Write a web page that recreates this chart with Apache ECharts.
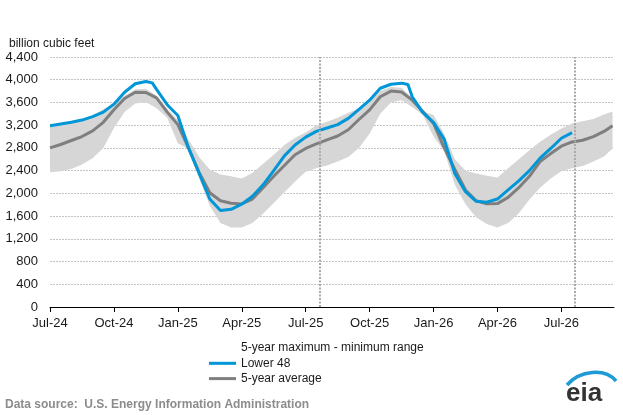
<!DOCTYPE html>
<html>
<head>
<meta charset="utf-8">
<script src="https://cdn.jsdelivr.net/npm/echarts@6/dist/echarts.min.js"></script>
<style>
html,body{margin:0;padding:0;background:#fff;}
#chart{width:623px;height:415px;}
</style>
</head>
<body>
<div id="chart"></div>
<script>
// x positions are months since Jul-2024 (0 = Jul-24)
const xTickMonths = [0, 3, 6, 9, 12, 15, 18, 21, 24];
const xTickLabels = ['Jul-24', 'Oct-24', 'Jan-25', 'Apr-25', 'Jul-25', 'Oct-25', 'Jan-26', 'Apr-26', 'Jul-26'];
const yTicks = [0, 400, 800, 1200, 1600, 2000, 2400, 2800, 3200, 3600, 4000, 4400];

// current-week markers (same week, two years)
const markerMonths = [12.67, 24.64];

// Lower 48 working gas in storage (bcf)
const lowerMonths = [0, 0.5, 1, 1.5, 2, 2.5, 3, 3.5, 4, 4.5, 4.8, 5, 5.5, 6, 6.5, 7, 7.5, 8, 8.5, 9, 9.5, 10, 10.5, 11, 11.5, 12,
  12.5, 13, 13.5, 14, 14.5, 15, 15.5, 16, 16.5, 16.8, 17, 17.5, 18, 18.5, 19, 19.5, 20, 20.5, 21, 21.5, 22, 22.5, 23, 23.5, 24, 24.5];
const lower48 = [3190, 3220, 3250, 3290, 3350, 3430, 3570, 3780, 3930, 3970, 3945, 3830, 3560, 3370, 2800, 2350, 1900, 1700, 1720, 1810, 1950, 2150, 2400, 2660, 2850, 2990,
  3090, 3150, 3210, 3320, 3480, 3640, 3850, 3920, 3940, 3915, 3700, 3420, 3250, 2950, 2350, 2030, 1860, 1845, 1900, 2060, 2220, 2400, 2620, 2790, 2970, 3070];

// 5-year statistics
const statMonths = [0, 0.5, 1, 1.5, 2, 2.5, 3, 3.5, 4, 4.5, 5, 5.5, 6, 6.5, 7, 7.5, 8, 8.5, 9, 9.5, 10, 10.5, 11, 11.5, 12,
  12.5, 13, 13.5, 14, 14.5, 15, 15.5, 16, 16.5, 17, 17.5, 18, 18.5, 19, 19.5, 20, 20.5, 21, 21.5, 22, 22.5, 23, 23.5, 24, 24.5, 25, 25.5, 26, 26.4];
const fiveYearAvg = [2800, 2860, 2930, 3000, 3100, 3250, 3470, 3670, 3780, 3775, 3680, 3430, 3210, 2800, 2370, 2010, 1870, 1825, 1815, 1900, 2100, 2300, 2490, 2680, 2790,
  2870, 2940, 3010, 3120, 3300, 3470, 3700, 3800, 3785, 3640, 3440, 3230, 2800, 2420, 2060, 1870, 1815, 1820, 1930, 2100, 2300, 2560, 2700, 2830, 2905, 2935, 3000, 3090, 3190];
const fiveYearMax = [3180, 3210, 3240, 3270, 3370, 3480, 3580, 3720, 3830, 3840, 3720, 3490, 3290, 2950, 2640, 2420, 2330, 2300, 2260, 2360, 2520, 2680, 2850, 2980, 3070,
  3200, 3260, 3330, 3420, 3500, 3640, 3800, 3870, 3860, 3680, 3440, 3380, 3050, 2600, 2400, 2350, 2310, 2280, 2440, 2600, 2760, 2910, 3030, 3140, 3230, 3270, 3310, 3390, 3440];
const fiveYearMin = [2370, 2390, 2430, 2510, 2620, 2800, 3150, 3430, 3580, 3610, 3500, 3330, 2880, 2780, 2260, 1780, 1480, 1400, 1400, 1480, 1640, 1830, 2020, 2210, 2380,
  2440, 2490, 2560, 2640, 2800, 3050, 3400, 3600, 3640, 3520, 3380, 3000, 2750, 2150, 1810, 1580, 1460, 1400, 1480, 1650, 1890, 2100, 2260, 2390, 2440, 2480, 2560, 2650, 2790];

const pair = (xs, ys) => xs.map((x, i) => [x, ys[i]]);
const bandData = statMonths.map((m, i) => [m, fiveYearMin[i], fiveYearMax[i]]);

const chart = echarts.init(document.getElementById('chart'), null, {renderer: 'canvas'});
const FONT = '"Liberation Sans", Arial, sans-serif';

chart.setOption({
  animation: false,
  backgroundColor: '#ffffff',
  textStyle: {fontFamily: FONT},
  title: {
    text: 'billion cubic feet',
    left: 4, top: 33,
    textStyle: {fontSize: 12, fontWeight: 'normal', color: '#1a1a1a', fontFamily: FONT}
  },
  grid: {left: 50, right: 9, top: 57, bottom: 108, containLabel: false},
  legend: {
    orient: 'vertical',
    left: 204, top: 337,
    itemWidth: 27, itemHeight: 3, itemGap: 3.3,
    icon: 'rect',
    textStyle: {fontSize: 12, color: '#1a1a1a', fontFamily: FONT},
    selectedMode: false,
    data: [
      {name: '5-year maximum - minimum range', itemStyle: {opacity: 0}},
      {name: 'Lower 48'},
      {name: '5-year average'}
    ]
  },
  xAxis: {
    type: 'value',
    min: 0, max: 26.47,
    splitLine: {show: false},
    axisLine: {show: true, lineStyle: {color: '#000', width: 1}},
    axisTick: {show: true, length: 5, lineStyle: {color: '#000'}, customValues: xTickMonths},
    axisLabel: {
      customValues: xTickMonths,
      fontSize: 13, color: '#1a1a1a', margin: 10, fontFamily: FONT,
      formatter: v => { const i = xTickMonths.indexOf(v); return i >= 0 ? xTickLabels[i] : ''; }
    }
  },
  yAxis: {
    type: 'value',
    min: yTicks[0], max: yTicks[yTicks.length - 1], interval: 400,
    axisLine: {show: false},
    axisTick: {show: false},
    splitLine: {show: true, lineStyle: {color: '#c4c4c4', type: [2, 1], width: 1}},
    axisLabel: {
      fontSize: 13, color: '#1a1a1a', margin: 12, fontFamily: FONT,
      formatter: v => v.toLocaleString('en-US')
    }
  },
  series: [
    {
      name: '5-year maximum - minimum range', type: 'custom',
      data: bandData,
      silent: true,
      itemStyle: {color: '#d6d6d6'},
      encode: {x: 0, y: [1, 2]},
      z: 1,
      renderItem: function (params, api) {
        if (params.dataIndex !== 0) return null;
        const pts = [];
        for (let i = 0; i < bandData.length; i++) pts.push(api.coord([bandData[i][0], bandData[i][2]]));
        for (let i = bandData.length - 1; i >= 0; i--) pts.push(api.coord([bandData[i][0], bandData[i][1]]));
        return {type: 'polygon', shape: {points: pts}, style: {fill: '#d6d6d6', stroke: null}};
      }
    },
    {
      name: '5-year average', type: 'line',
      data: pair(statMonths, fiveYearAvg),
      symbol: 'none',
      lineStyle: {color: '#7f7f7f', width: 3},
      itemStyle: {color: '#7f7f7f'},
      z: 3,
      markLine: {
        silent: true, symbol: 'none', animation: false,
        label: {show: false},
        lineStyle: {color: '#a9a9a9', type: [2, 1.5], width: 2},
        data: markerMonths.map(m => ({xAxis: m}))
      }
    },
    {
      name: 'Lower 48', type: 'line',
      data: pair(lowerMonths, lower48),
      symbol: 'none',
      lineStyle: {color: '#0096d7', width: 3},
      itemStyle: {color: '#0096d7'},
      z: 4
    }
  ],
  graphic: [
    {
      type: 'text', left: 5, top: 399,
      style: {text: 'Data source:  U.S. Energy Information Administration', fontSize: 12, fontWeight: 'bold', fill: '#8c8c8c', fontFamily: FONT}
    },
    {
      type: 'bezierCurve',
      shape: {x1: 567, y1: 385, cpx1: 580, cpy1: 370, cpx2: 605, cpy2: 368, x2: 616, y2: 381},
      style: {stroke: '#1e9ad6', lineWidth: 3.5, fill: null}
    },
    {
      type: 'text', left: 566, top: 381,
      style: {text: 'eia', fontSize: 26, fontWeight: 'bold', fill: '#333333', fontFamily: FONT}
    }
  ]
});
</script>
</body>
</html>
